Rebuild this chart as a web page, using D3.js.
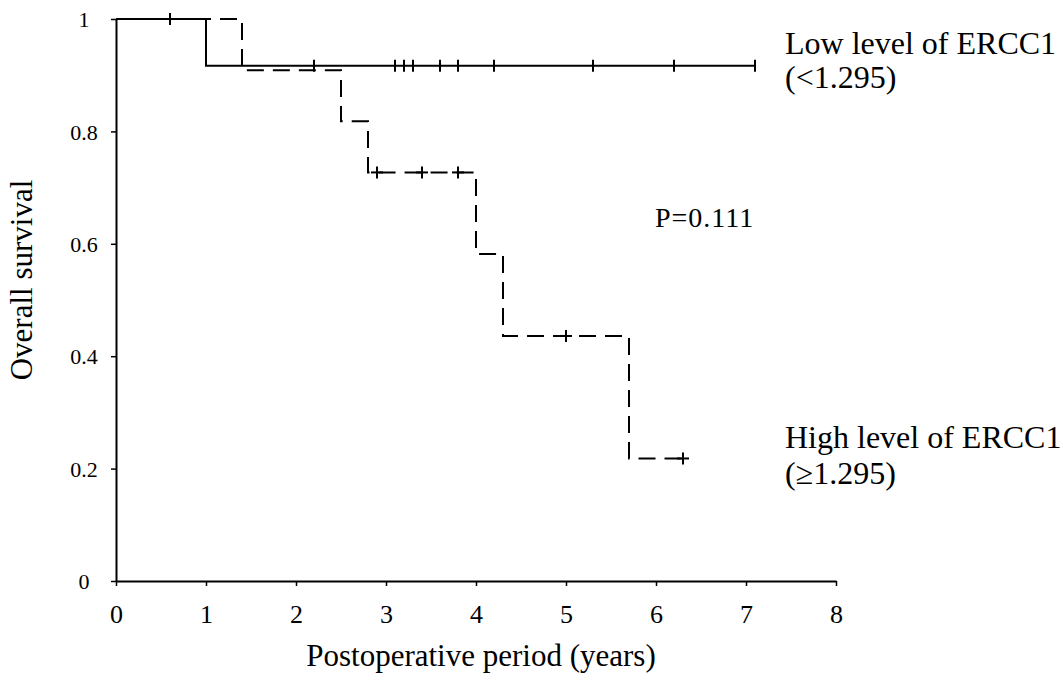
<!DOCTYPE html>
<html>
<head>
<meta charset="utf-8">
<script src="https://cdn.jsdelivr.net/npm/d3@7"></script>
<style>
  body { margin: 0; background: #fff; }
  svg text { font-family: "Liberation Serif", "Times New Roman", serif; fill: #000; }
</style>
</head>
<body>
<svg id="chart" width="1063" height="683"></svg>
<script>
// Kaplan-Meier data
const lowSteps = [ { t: 0, s: 1 }, { t: 1.0, s: 0.917 } ];
const lowEnd = 7.1;
const lowCensor = [0.6, 2.2, 3.1, 3.2, 3.3, 3.6, 3.8, 4.2, 5.3, 6.2, 7.1];

const highSteps = [
    { t: 0, s: 1 }, { t: 1.4, s: 0.909 }, { t: 2.5, s: 0.818 }, { t: 2.8, s: 0.727 },
    { t: 4.0, s: 0.582 }, { t: 4.3, s: 0.436 }, { t: 5.7, s: 0.218 }
];
const highEnd = 6.3;
const highCensor = [2.9, 3.4, 3.8, 5.0, 6.3];

const xTicks = [0, 1, 2, 3, 4, 5, 6, 7, 8];
const yTicks = [0, 0.2, 0.4, 0.6, 0.8, 1];

const svg = d3.select('#chart');

const x = d3.scaleLinear().domain([0, 8]).range([116, 836]);
const y = d3.scaleLinear().domain([0, 1]).range([581, 19]);

// axes
const xAxis = svg.append('g')
    .attr('transform', `translate(0, ${y(0)})`)
    .call(d3.axisBottom(x).tickValues(xTicks).tickSize(5).tickSizeOuter(0).tickFormat(d3.format('d')));
xAxis.select('.domain').attr('stroke-width', 2);
xAxis.selectAll('.tick line').attr('stroke-width', 1.5);
xAxis.selectAll('.tick text')
    .attr('font-size', 26).attr('y', 24).attr('dy', '0.71em');

const yAxis = svg.append('g')
    .attr('transform', `translate(${x(0)}, 0)`)
    .call(d3.axisLeft(y).tickValues(yTicks).tickSize(5).tickSizeOuter(0).tickFormat(d => d));
yAxis.select('.domain').attr('stroke-width', 2);
yAxis.selectAll('.tick line').attr('stroke-width', 1.5);
yAxis.selectAll('.tick text')
    .attr('font-size', 22).attr('text-anchor', 'middle').attr('x', -32).attr('dy', '0.35em');

// step curves
function stepPath(steps, end) {
    const pts = steps.map(d => [d.t, d.s]);
    pts.push([end, steps[steps.length - 1].s]);
    return d3.line().x(d => x(d[0])).y(d => y(d[1])).curve(d3.curveStepAfter)(pts);
}
function survAt(steps, t) {
    let s = 1;
    steps.forEach(d => { if (d.t <= t) s = d.s; });
    return s;
}

svg.append('path')
    .attr('d', stepPath(highSteps, highEnd))
    .attr('fill', 'none').attr('stroke', '#000').attr('stroke-width', 2)
    .attr('stroke-dasharray', '17,9');

svg.append('path')
    .attr('d', stepPath(lowSteps, lowEnd))
    .attr('fill', 'none').attr('stroke', '#000').attr('stroke-width', 2);

// censor marks
const censors = lowCensor.map(t => ({ t, s: survAt(lowSteps, t) }))
    .concat(highCensor.map(t => ({ t, s: survAt(highSteps, t) })));

svg.selectAll('.censor')
    .data(censors)
    .join('line')
    .attr('class', 'censor')
    .attr('x1', d => x(d.t)).attr('x2', d => x(d.t))
    .attr('y1', d => y(d.s) - 6).attr('y2', d => y(d.s) + 6)
    .attr('stroke', '#000').attr('stroke-width', 2);

// plus marks on dashed line need the horizontal bar too
svg.selectAll('.censorBar')
    .data(highCensor.map(t => ({ t, s: survAt(highSteps, t) })))
    .join('line')
    .attr('class', 'censorBar')
    .attr('x1', d => x(d.t) - 6).attr('x2', d => x(d.t) + 6)
    .attr('y1', d => y(d.s)).attr('y2', d => y(d.s))
    .attr('stroke', '#000').attr('stroke-width', 2);

// labels
svg.append('text').attr('x', 785).attr('y', 54).attr('font-size', 32).text('Low level of ERCC1');
svg.append('text').attr('x', 785).attr('y', 88).attr('font-size', 32).text('(<1.295)');
svg.append('text').attr('x', 785).attr('y', 448).attr('font-size', 32).text('High level of ERCC1');
svg.append('text').attr('x', 785).attr('y', 484).attr('font-size', 32).text('(≥1.295)');
svg.append('text').attr('x', 655).attr('y', 227).attr('font-size', 28)
    .attr('letter-spacing', 1).text('P=0.111');

svg.append('text')
    .attr('x', 481).attr('y', 666).attr('font-size', 31).attr('text-anchor', 'middle')
    .text('Postoperative period (years)');

svg.append('text')
    .attr('transform', 'translate(32, 280) rotate(-90)')
    .attr('font-size', 31).attr('text-anchor', 'middle')
    .text('Overall survival');
</script>
</body>
</html>
